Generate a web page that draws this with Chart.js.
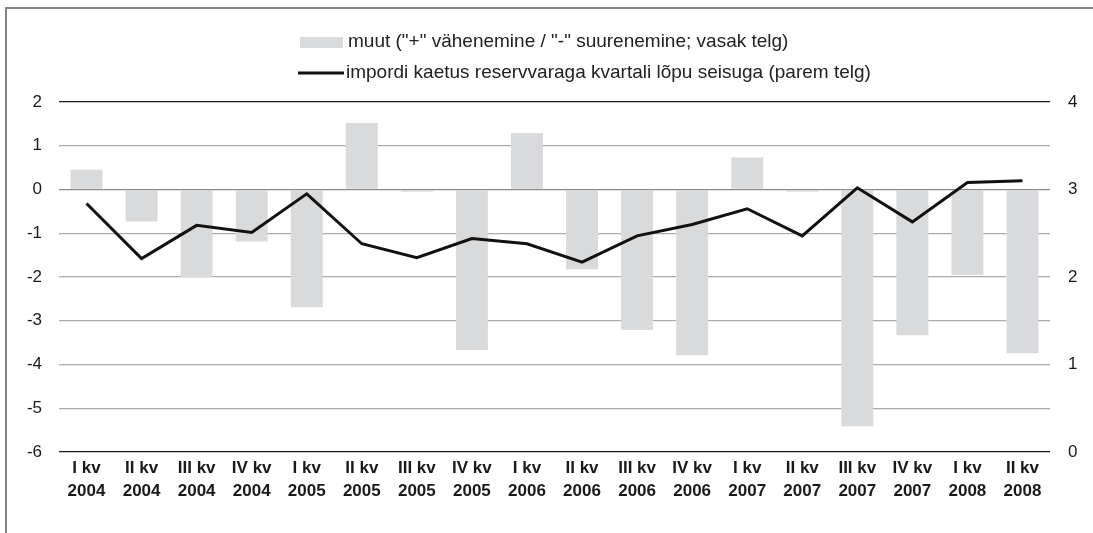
<!DOCTYPE html>
<html>
<head>
<meta charset="utf-8">
<script src="https://cdn.jsdelivr.net/npm/chart.js@4.4.1/dist/chart.umd.min.js"></script>
<style>
    html, body { margin: 0; padding: 0; background: #fff; }
    #wrap { position: relative; width: 1093px; height: 533px; overflow: hidden; }
    #frame { position: absolute; left: 5px; top: 7px; right: -5px; bottom: -5px;
             border-left: 2px solid #858585; border-top: 2px solid #858585; pointer-events: none; }
    canvas { position: absolute; left: 0; top: 0; }
</style>
</head>
<body>
<div id="wrap">
    <canvas id="chart" width="1093" height="533"></canvas>
    <div id="frame"></div>
</div>
<script>
// --- Data ---
const quarters = ['I kv', 'II kv', 'III kv', 'IV kv', 'I kv', 'II kv', 'III kv', 'IV kv', 'I kv',
                  'II kv', 'III kv', 'IV kv', 'I kv', 'II kv', 'III kv', 'IV kv', 'I kv', 'II kv'];
const years = ['2004', '2004', '2004', '2004', '2005', '2005', '2005', '2005', '2006',
               '2006', '2006', '2006', '2007', '2007', '2007', '2007', '2008', '2008'];

// muut (vasak telg)
const changeValues = [0.45, -0.73, -2.01, -1.19, -2.69, 1.52, -0.05, -3.67, 1.29,
                      -1.82, -3.21, -3.79, 0.73, -0.05, -5.41, -3.33, -1.95, -3.74];
// impordi kaetus (parem telg)
const coverValues = [2.84, 2.21, 2.59, 2.51, 2.95, 2.38, 2.22, 2.44, 2.38,
                     2.17, 2.47, 2.60, 2.78, 2.47, 3.02, 2.63, 3.08, 3.10];

const leftTicks = { min: -6, max: 2, step: 1 };
const rightTicks = { min: 0, max: 4, step: 1 };

const barLabel = 'muut ("+" vähenemine / "-" suurenemine; vasak telg)';
const lineLabel = 'impordi kaetus reservvaraga kvartali lõpu seisuga (parem telg)';

const FONT = '"Liberation Sans", Arial, Helvetica, sans-serif';

// Legend drawn as two left-aligned rows
const legendPlugin = {
    id: 'stackedLegend',
    afterDraw: (chart) => {
        const ctx = chart.ctx;
        const [bars, line] = chart.data.datasets;
        ctx.save();
        ctx.font = '19px ' + FONT;
        ctx.textBaseline = 'middle';
        ctx.fillStyle = bars.backgroundColor;
        ctx.fillRect(300, 37, 43, 11);
        ctx.fillStyle = '#222';
        ctx.fillText(bars.label, 348, 42);
        ctx.strokeStyle = line.borderColor;
        ctx.lineWidth = 3;
        ctx.beginPath();
        ctx.moveTo(298, 73);
        ctx.lineTo(344, 73);
        ctx.stroke();
        ctx.fillText(line.label, 346, 73);
        ctx.restore();
    }
};

const gridColor = (c) => {
    const v = c.tick && c.tick.value;
    if (v === leftTicks.max || v === leftTicks.min) return '#1a1a1a';
    if (v === 0) return '#8a8a8a';
    return '#ababab';
};

new Chart(document.getElementById('chart'), {
    data: {
        labels: quarters.map((q, i) => [q, years[i]]),
        datasets: [
            {
                type: 'bar',
                label: barLabel,
                data: changeValues,
                backgroundColor: '#d9dadc',
                yAxisID: 'y',
                barPercentage: 0.58,
                categoryPercentage: 1,
                order: 1
            },
            {
                type: 'line',
                label: lineLabel,
                data: coverValues,
                borderColor: '#111',
                borderWidth: 3,
                pointRadius: 0,
                tension: 0,
                yAxisID: 'y1',
                order: 0
            }
        ]
    },
    options: {
        responsive: false,
        animation: false,
        layout: { padding: { top: 102, left: 0, right: 0, bottom: 0 } },
        plugins: {
            legend: { display: false },
            tooltip: { enabled: false }
        },
        scales: {
            x: {
                grid: { display: false, drawTicks: false },
                border: { display: false },
                ticks: {
                    color: '#1a1a1a',
                    font: { family: FONT, size: 17, weight: 'bold', lineHeight: 1.35 },
                    padding: 5,
                    maxRotation: 0,
                    autoSkip: false
                },
                afterFit: (s) => { s.height = 81; }
            },
            y: {
                position: 'left',
                min: leftTicks.min,
                max: leftTicks.max,
                ticks: {
                    stepSize: leftTicks.step,
                    color: '#1a1a1a',
                    font: { family: FONT, size: 17 },
                    padding: 17
                },
                grid: { color: gridColor, lineWidth: 1.3, drawTicks: false },
                border: { display: false },
                afterFit: (s) => { s.width = 59; }
            },
            y1: {
                position: 'right',
                min: rightTicks.min,
                max: rightTicks.max,
                ticks: {
                    stepSize: rightTicks.step,
                    color: '#1a1a1a',
                    font: { family: FONT, size: 17 },
                    padding: 18
                },
                grid: { display: false, drawTicks: false },
                border: { display: false },
                afterFit: (s) => { s.width = 43; }
            }
        }
    },
    plugins: [legendPlugin]
});
</script>
</body>
</html>
